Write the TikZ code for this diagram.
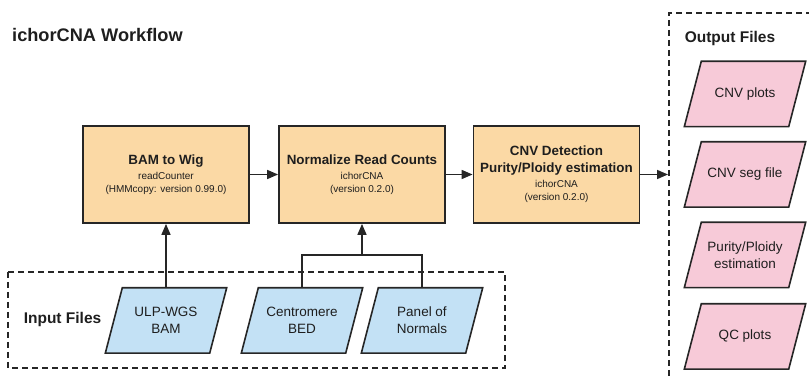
\documentclass[tikz,border=0pt]{standalone}
\usepackage{fontspec}
\setmainfont{Liberation Sans}
\usetikzlibrary{arrows.meta,backgrounds}
\definecolor{procfill}{HTML}{FBD9A5}
\definecolor{infill}{HTML}{C3E1F5}
\definecolor{outfill}{HTML}{F7CAD8}
\definecolor{edge}{HTML}{262626}
\definecolor{txt}{HTML}{1E1E1E}
\newcommand{\hdl}[1]{{\fontsize{13.4}{13}\selectfont\bfseries #1}}
\begin{document}
\begin{tikzpicture}[x=1pt,y=-1pt,
 proc/.style={draw=edge, line width=1.8pt, fill=procfill, minimum width=166pt, minimum height=97pt, inner sep=0pt, align=center, text=txt, font=\fontsize{10}{13}\selectfont},
 ptext/.style={minimum width=104pt, minimum height=65pt, inner sep=0pt, align=center, text=txt, font=\fontsize{13.5}{17}\selectfont},
 arr/.style={draw=edge, line width=1.6pt, -{Triangle[length=11pt,width=9pt]}},
 link/.style={draw=edge, line width=1.6pt},
 frame/.style={draw=edge, line width=1.4pt, dash pattern=on 6pt off 4pt},
 parbox/.style={draw=edge, line width=1.6pt, line join=miter},
 label/.style={inner sep=0pt, text=txt, font=\fontsize{15.5}{18}\selectfont\bfseries}
]
\useasboundingbox (0,0) rectangle (809,379);

% title
\node[label, anchor=west, font=\fontsize{18.2}{22}\selectfont\bfseries] (title) at (12,35) {ichorCNA Workflow};

% process boxes
\node[proc] (b1) at (166,174.5) {\hdl{BAM to Wig}\\[2pt] readCounter\\(HMMcopy: version 0.99.0)};
\node[proc] (b2) at (362,174.5) {\hdl{Normalize Read Counts}\\[2pt] ichorCNA\\(version 0.2.0)};
\node[proc] (b3) at (556.5,174.5) {\hdl{CNV Detection}\\[4pt] \hdl{Purity/Ploidy estimation}\\[2pt] ichorCNA\\(version 0.2.0)};

% input files frame
\draw[frame] (8,272) rectangle (505,368);
\node[label] (inlab) at (62.5,319) {Input Files};
\node[ptext] (in1) at (166,320.5) {ULP-WGS\\BAM};
\node[ptext] (in2) at (302,320.5) {Centromere\\BED};
\node[ptext] (in3) at (422,320.5) {Panel of\\Normals};

% output files frame
\draw[frame] (812,13) -- (669,13) -- (669,382);
\node[label] (outlab) at (730,38) {Output Files};
\node[ptext] (o1) at (745,94) {CNV plots};
\node[ptext] (o2) at (745,174.5) {CNV seg file};
\node[ptext] (o3) at (745,255) {Purity/Ploidy\\estimation};
\node[ptext] (o4) at (745,336.5) {QC plots};

\begin{pgfonlayer}{background}
\foreach \n in {in1,in2,in3}
  \draw[parbox, fill=infill] ([xshift=8.5pt]\n.north west) -- ([xshift=8.5pt]\n.north east) -- ([xshift=-8.5pt]\n.south east) -- ([xshift=-8.5pt]\n.south west) -- cycle;
\foreach \n in {o1,o2,o3,o4}
  \draw[parbox, fill=outfill] ([xshift=8.5pt]\n.north west) -- ([xshift=8.5pt]\n.north east) -- ([xshift=-8.5pt]\n.south east) -- ([xshift=-8.5pt]\n.south west) -- cycle;
\end{pgfonlayer}

% connectors
\coordinate (j) at (362,255);
\coordinate (oe) at (668,174.5);
\draw[arr] (b1) -- (b2);
\draw[arr] (b2) -- (b3);
\draw[arr] (b3.east) -- (oe);
\draw[arr] (in1.north) -- (b1.south);
\draw[link] (in2.north) |- (j) -| (in3.north);
\draw[arr] (j) -- (b2.south);
\end{tikzpicture}
\end{document}
